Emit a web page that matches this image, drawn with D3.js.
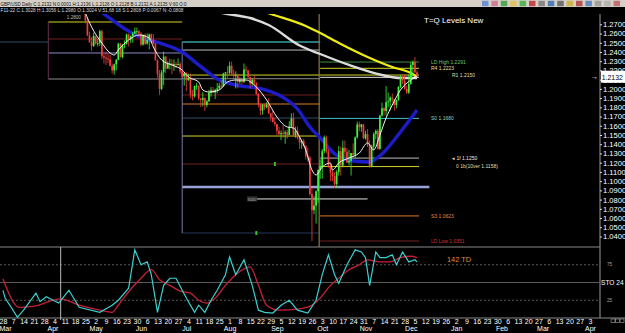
<!DOCTYPE html>
<html>
<head>
<meta charset="utf-8">
<script src="https://cdn.jsdelivr.net/npm/d3@7"></script>
<style>
html, body { margin: 0; padding: 0; background: #000; }
svg { display: block; font-family: "Liberation Sans", Arial, sans-serif; }
</style>
</head>
<body>
<svg id="chart" width="625" height="333"></svg>
<script>
// ---- data (GBP/USD daily) ----
const axisFirst = "2022-02-28", axisLast = "2023-04-03";
const candleFirst = "2022-04-20";

const opens = [
  1.3000, 1.3055, 1.3030,
  1.2830, 1.2740, 1.2580, 1.2505, 1.2465,
  1.2570, 1.2490, 1.2495, 1.2625, 1.2355,
  1.2340, 1.2330, 1.2320, 1.2250, 1.2200,
  1.2265, 1.2315, 1.2490, 1.2345, 1.2480,
  1.2490, 1.2590, 1.2535, 1.2570, 1.2600,
  1.2625, 1.2625, 1.2600, 1.2480, 1.2585,
  1.2490, 1.2530, 1.2590, 1.2535, 1.2490,
  1.2310, 1.2160, 1.2000, 1.2180, 1.2350,
  1.2220, 1.2270, 1.2275, 1.2255, 1.2270,
  1.2265, 1.2270, 1.2190, 1.2135, 1.2175,
  1.2095, 1.2115, 1.1940, 1.1920, 1.2030,
  1.2035, 1.1895, 1.1880, 1.1900, 1.1825,
  1.1865, 1.1955, 1.1985, 1.1960, 1.1990,
  1.2005, 1.2035, 1.2030, 1.2165, 1.2180,
  1.2175, 1.2250, 1.2165, 1.2140, 1.2150,
  1.2075, 1.2095, 1.2075, 1.2210, 1.2200,
  1.2130, 1.2055, 1.2100, 1.2060, 1.1945,
  1.1830, 1.1765, 1.1830, 1.1800, 1.1830,
  1.1735, 1.1690, 1.1640, 1.1620, 1.1545,
  1.1510, 1.1520, 1.1515, 1.1530, 1.1500,
  1.1590, 1.1680, 1.1500, 1.1545, 1.1470,
  1.1420, 1.1435, 1.1380, 1.1270, 1.1255,
  1.0860, 1.0685, 1.0735, 1.0890, 1.1120,
  1.1165, 1.1325, 1.1475, 1.1320, 1.1155,
  1.1090, 1.1055, 1.0970, 1.1100, 1.1325,
  1.1170, 1.1360, 1.1320, 1.1200, 1.1220,
  1.1305, 1.1285, 1.1475, 1.1615, 1.1585,
  1.1615, 1.1465, 1.1510, 1.1395, 1.1160,
  1.1375, 1.1510, 1.1545, 1.1350, 1.1710,
  1.1790, 1.1760, 1.1855, 1.1865, 1.1905,
  1.1890, 1.1825, 1.1880, 1.2020, 1.2120,
  1.2090, 1.2000, 1.1960, 1.2055, 1.2260,
  1.2290, 1.2180
];
const highs = [
  1.3070, 1.3090, 1.3040,
  1.2850, 1.2775, 1.2620, 1.2560, 1.2610,
  1.2580, 1.2545, 1.2640, 1.2640, 1.2385,
  1.2405, 1.2380, 1.2370, 1.2275, 1.2275,
  1.2325, 1.2500, 1.2500, 1.2485, 1.2525,
  1.2600, 1.2600, 1.2580, 1.2620, 1.2665,
  1.2665, 1.2640, 1.2615, 1.2590, 1.2600,
  1.2600, 1.2600, 1.2600, 1.2595, 1.2500,
  1.2320, 1.2205, 1.2205, 1.2405, 1.2355,
  1.2300, 1.2325, 1.2320, 1.2320, 1.2295,
  1.2330, 1.2290, 1.2210, 1.2180, 1.2180,
  1.2165, 1.2165, 1.1990, 1.2035, 1.2065,
  1.2035, 1.1900, 1.1965, 1.1910, 1.1880,
  1.1990, 1.2020, 1.2020, 1.2000, 1.2065,
  1.2065, 1.2095, 1.2175, 1.2180, 1.2245,
  1.2295, 1.2295, 1.2210, 1.2190, 1.2165,
  1.2125, 1.2120, 1.2275, 1.2250, 1.2205,
  1.2130, 1.2115, 1.2145, 1.2075, 1.1955,
  1.1840, 1.1835, 1.1840, 1.1855, 1.1900,
  1.1740, 1.1760, 1.1690, 1.1620, 1.1590,
  1.1550, 1.1610, 1.1550, 1.1560, 1.1650,
  1.1735, 1.1740, 1.1590, 1.1590, 1.1475,
  1.1450, 1.1460, 1.1390, 1.1360, 1.1275,
  1.0930, 1.0840, 1.0900, 1.1130, 1.1235,
  1.1350, 1.1495, 1.1495, 1.1350, 1.1185,
  1.1120, 1.1100, 1.1120, 1.1380, 1.1375,
  1.1440, 1.1440, 1.1360, 1.1340, 1.1305,
  1.1410, 1.1485, 1.1645, 1.1645, 1.1620,
  1.1620, 1.1545, 1.1565, 1.1440, 1.1395,
  1.1530, 1.1560, 1.1565, 1.1720, 1.1850,
  1.1800, 1.2030, 1.1960, 1.1920, 1.1950,
  1.1890, 1.1885, 1.2030, 1.2150, 1.2155,
  1.2155, 1.2035, 1.2155, 1.2290, 1.2310,
  1.2345, 1.2200
];
const lows = [
  1.2990, 1.2995, 1.2835,
  1.2710, 1.2570, 1.2500, 1.2410, 1.2455,
  1.2480, 1.2460, 1.2465, 1.2325, 1.2275,
  1.2260, 1.2280, 1.2245, 1.2165, 1.2155,
  1.2200, 1.2310, 1.2340, 1.2330, 1.2440,
  1.2480, 1.2460, 1.2500, 1.2500, 1.2590,
  1.2590, 1.2565, 1.2460, 1.2470, 1.2475,
  1.2480, 1.2430, 1.2500, 1.2480, 1.2310,
  1.2120, 1.1935, 1.1985, 1.2040, 1.2170,
  1.2215, 1.2210, 1.2160, 1.2195, 1.2225,
  1.2250, 1.2165, 1.2120, 1.2035, 1.1975,
  1.2085, 1.1900, 1.1875, 1.1905, 1.1990,
  1.1875, 1.1805, 1.1810, 1.1760, 1.1800,
  1.1860, 1.1915, 1.1955, 1.1890, 1.1950,
  1.1990, 1.2000, 1.2020, 1.2065, 1.2120,
  1.2160, 1.2155, 1.2120, 1.2005, 1.2005,
  1.2055, 1.2050, 1.2065, 1.2170, 1.2110,
  1.2005, 1.2030, 1.2030, 1.1930, 1.1800,
  1.1715, 1.1720, 1.1770, 1.1790, 1.1730,
  1.1650, 1.1635, 1.1595, 1.1500, 1.1495,
  1.1445, 1.1470, 1.1405, 1.1460, 1.1500,
  1.1580, 1.1480, 1.1470, 1.1450, 1.1350,
  1.1350, 1.1375, 1.1235, 1.1210, 1.0840,
  1.0350, 1.0640, 1.0540, 1.0765, 1.1025,
  1.1025, 1.1300, 1.1300, 1.1145, 1.1000,
  1.1000, 1.0925, 1.0925, 1.1060, 1.1060,
  1.1150, 1.1260, 1.1200, 1.1170, 1.1060,
  1.1255, 1.1255, 1.1460, 1.1540, 1.1535,
  1.1455, 1.1450, 1.1370, 1.1145, 1.1150,
  1.1335, 1.1455, 1.1340, 1.1340, 1.1700,
  1.1710, 1.1710, 1.1800, 1.1765, 1.1850,
  1.1765, 1.1790, 1.1870, 1.2010, 1.2050,
  1.1990, 1.1945, 1.1945, 1.2045, 1.2140,
  1.2170, 1.2125
];
const closes = [
  1.3055, 1.3030, 1.2840,
  1.2740, 1.2580, 1.2505, 1.2465, 1.2575,
  1.2490, 1.2495, 1.2625, 1.2355, 1.2340,
  1.2330, 1.2320, 1.2250, 1.2200, 1.2265,
  1.2315, 1.2490, 1.2345, 1.2480, 1.2490,
  1.2590, 1.2535, 1.2570, 1.2600, 1.2625,
  1.2625, 1.2600, 1.2480, 1.2585, 1.2490,
  1.2530, 1.2590, 1.2535, 1.2490, 1.2310,
  1.2160, 1.2000, 1.2180, 1.2350, 1.2220,
  1.2270, 1.2275, 1.2255, 1.2270, 1.2265,
  1.2270, 1.2190, 1.2135, 1.2175, 1.2095,
  1.2115, 1.1940, 1.1920, 1.2030, 1.2035,
  1.1895, 1.1880, 1.1900, 1.1825, 1.1865,
  1.1955, 1.1985, 1.1960, 1.1990, 1.2005,
  1.2035, 1.2030, 1.2165, 1.2180, 1.2175,
  1.2250, 1.2165, 1.2140, 1.2150, 1.2075,
  1.2095, 1.2075, 1.2210, 1.2200, 1.2130,
  1.2055, 1.2100, 1.2060, 1.1945, 1.1830,
  1.1765, 1.1830, 1.1800, 1.1830, 1.1735,
  1.1690, 1.1640, 1.1620, 1.1545, 1.1510,
  1.1520, 1.1515, 1.1530, 1.1500, 1.1590,
  1.1680, 1.1500, 1.1545, 1.1470, 1.1420,
  1.1435, 1.1380, 1.1270, 1.1255, 1.0860,
  1.0685, 1.0735, 1.0890, 1.1120, 1.1165,
  1.1325, 1.1475, 1.1320, 1.1155, 1.1090,
  1.1055, 1.0970, 1.1100, 1.1325, 1.1170,
  1.1360, 1.1320, 1.1200, 1.1220, 1.1305,
  1.1285, 1.1475, 1.1615, 1.1585, 1.1615,
  1.1465, 1.1510, 1.1395, 1.1160, 1.1375,
  1.1510, 1.1545, 1.1350, 1.1710, 1.1790,
  1.1760, 1.1855, 1.1865, 1.1905, 1.1890,
  1.1825, 1.1880, 1.2020, 1.2120, 1.2090,
  1.2000, 1.1960, 1.2055, 1.2260, 1.2290,
  1.2180, 1.2132
];

// moving averages (session = trading day from axisFirst)
const fastMaDays = [40,43,48,52,54,56,61,66,71,73,77,82,87,90,95,97,100,105,109,113,118,123,128,133,138,141,144,147,150,152,155,159,160,163,168,173,177,180,183,186,189,193,198,201];
const fastMaValues = [1.2822,1.2671,1.2497,1.2389,1.2367,1.2421,1.2530,1.2584,1.2552,1.2454,1.2313,1.2259,1.2205,1.2129,1.2075,1.1988,1.1966,1.1988,1.2075,1.2096,1.2096,1.2020,1.1880,1.1695,1.1587,1.1576,1.1479,1.1338,1.1121,1.1067,1.1153,1.1197,1.1121,1.1197,1.1251,1.1305,1.1414,1.1338,1.1500,1.1685,1.1825,1.1988,1.2096,1.2140];
const blueMaDays = [44,49,53,60,66,76,87,95,105,113,126,134,143,149,155,160,167,178,184,193,201];
const blueMaValues = [1.2900,1.2812,1.2747,1.2639,1.2563,1.2498,1.2400,1.2260,1.2096,1.2042,1.1998,1.1933,1.1782,1.1587,1.1446,1.1316,1.1229,1.1208,1.1294,1.1533,1.1771];
const grayMaDays = [100,109,120,129,144,154,168,184,193,201];
const grayMaValues = [1.2850,1.2812,1.2768,1.2692,1.2470,1.2378,1.2259,1.2150,1.2118,1.2118];
const yellowMaDays = [120,130,147,154,164,177,189,198,201];
const yellowMaValues = [1.2888,1.2812,1.2682,1.2606,1.2487,1.2346,1.2237,1.2172,1.2129];

// stochastic
const stoKDays = [0,1,4,7,10,13,16,18,21,27,32,37,47,53,56,61,64,67,70,72,75,78,81,84,87,90,93,95,98,101,104,108,110,113,117,121,124,127,131,135,139,143,148,152,155,158,161,163,167,171,174,176,178,181,183,186,189,191,194,197,200,201];
const stoKValues = [39,28,15,1,11,23,35,23,30,21,39,15,8,18,25,42,96,75,79,61,8,46,56,56,39,23,8,18,8,25,39,61,86,61,82,46,11,8,7,18,25,11,7,25,61,89,61,49,75,96,93,85,46,93,85,85,89,75,93,79,82,79];
const stoDDays = [0,8,16,22,28,37,47,53,56,61,67,72,76,81,86,91,95,99,103,108,113,120,124,128,134,144,150,154,159,163,168,173,177,183,188,193,198,201];
const stoDValues = [55,15,17,23,27,18,11,8,18,37,56,68,54,46,38,35,25,21,28,46,61,72,46,18,11,13,18,28,46,56,68,75,82,79,79,85,87,85];
const stoLevels = [75, 50, 25];

// T=Q level lines
const levelPrices = [1.2725,1.2541,1.2389,1.2107,1.2508,
  1.2508,1.2421,1.2150,1.2110,1.1934,1.1836,1.1684,1.1489,1.1186,1.0937,1.0438,
  1.2291,1.2223,1.2125,1.1680,1.1250,1.1158,1.0623,1.0351,1.0807];
const levelFrom = [22,22,22,22,-2, 87,87,87,87,87,87,87,87,87,87,87, 154,154,154,154,154,154,154,154,123];
const levelTo = [87,87,87,87,22, 154,154,202,154,154,154,154,154,154,207,154, 202,202,202,202,202,202,202,202,177];
const levelKinds = ["yellow","maroon","lavender","gray","slate",
  "teal","silver","yellow","gray","maroon","orange","slate","yellow","maroon","lavenderThick","navy",
  "green","yellow","white","cyan","silver","yellow","orange","maroon","white"];
const boxDays = [22, 87];
const boxTops = [1.2725, 1.2508];
const boxBottoms = [1.2107, 1.0438];
const cursorDay = 153.5;
const markerDays = [132, 123];
const markerPrices = [1.1186, 1.0438];

const levelTexts = ["LD High 1.2291","R4 1.2223","R1 1.2150","S0 1.1680","\u25C2 1f 1.1250","0 1b(10ver 1.1158)","S3 1.0623","LD Low 1.0351"];
const levelTextPrices = [1.2291,1.2223,1.2150,1.1680,1.1250,1.1158,1.0623,1.0351];
const levelTextKinds = ["green","yellow","yellow","cyan","silver","yellow","orange","maroon"];

const priceTicks = [1.27,1.26,1.25,1.24,1.23,1.22,1.21,1.20,1.19,1.18,1.17,1.16,1.15,1.14,1.13,1.12,1.11,1.10,1.09,1.08,1.07,1.06,1.05,1.04];
const lastPrice = 1.2132;

// ---- styles ----
const levelColor = {
  yellow: "#d2d229", maroon: "#762020", lavender: "#8a8ac4", gray: "#8c8c8c",
  slate: "#2f4b68", teal: "#3a9e9e", silver: "#bcbcbc", orange: "#e07a22",
  lavenderThick: "#98a2d8", navy: "#26365a", green: "#3f8f3f", white: "#e2e2e2", cyan: "#40c2c8"
};
const levelWidth = { teal: 1.6, lavenderThick: 2.6 };
const textColor = { green: "#6cc46c", yellow: "#e4dca0", cyan: "#8ad2d2", silver: "#e8e8e8", orange: "#e08a44", maroon: "#c83a3a" };

// ---- scales ----
const parse = d3.timeParse("%Y-%m-%d");
const days = d3.timeDay.range(parse(axisFirst), d3.timeDay.offset(parse(axisLast), 1))
  .filter(d => d.getDay() > 0 && d.getDay() < 6);
const sessionOf = d => days.findIndex(t => +t === +d);
const s0 = sessionOf(parse(candleFirst));

const x = d3.scaleLinear().domain([0, days.length - 1]).range([3, 590]);
const y = d3.scaleLinear().domain([1.04, 1.27]).range([236.5, 24.3]);
const ys = d3.scaleLinear().domain([0, 100]).range([318, 247]);

const svg = d3.select("#chart");
svg.append("rect").attr("width", 625).attr("height", 333).attr("fill", "#000");

// header strip
svg.append("rect").attr("width", 625).attr("height", 7).attr("fill", "#d4d0c8");
svg.append("text").attr("x", 0.5).attr("y", 5.6).attr("font-size", 5.4).attr("fill", "#111")
  .attr("textLength", 186).attr("lengthAdjust", "spacingAndGlyphs")
  .text("GBP/USD Daily  C:1.2132  N:0.0001  H:1.2136  L:1.2126  O:1.2128  B:1.2132  A:1.2135  V:60  O:0");
svg.append("text").attr("x", 0.5).attr("y", 12.4).attr("font-size", 5).attr("fill", "#d8d8d8")
  .attr("textLength", 183).attr("lengthAdjust", "spacingAndGlyphs")
  .text("F11-22 C:1.3028 H:1.3056 L:1.2980 O:1.3024 V:51,68 18 S:1.2808 P:0.0067 N:-0.0808");
const iconColors = ["#5a86d0","#d07090","#3fa03f","#e0c050","#40b040","#c03030","#7a7a7a","#3a70b0","#606060","#d0b030","#b04040","#5080c0","#9a9a9a","#b0b0b0","#c06060"];
svg.append("g").selectAll("rect").data(iconColors).join("rect")
  .attr("x", (d, i) => 482 + i * 9.4).attr("y", 0.8).attr("width", 6.5).attr("height", 5.4)
  .attr("fill", d => d).attr("opacity", 0.85);

// clip for price panel
svg.append("clipPath").attr("id", "clipMain").append("rect")
  .attr("x", 0).attr("y", 14).attr("width", 600).attr("height", 233);
const plot = svg.append("g").attr("clip-path", "url(#clipMain)");

// level lines
const levels = levelPrices.map((p, i) => ({ p, a: levelFrom[i], b: levelTo[i], k: levelKinds[i] }));
plot.append("g").selectAll("line").data(levels).join("line")
  .attr("x1", d => x(d.a)).attr("x2", d => x(d.b))
  .attr("y1", d => y(d.p)).attr("y2", d => y(d.p))
  .attr("stroke", d => levelColor[d.k]).attr("stroke-width", d => levelWidth[d.k] || 1);
plot.append("g").selectAll("line").data(boxDays).join("line")
  .attr("x1", d => x(d)).attr("x2", d => x(d))
  .attr("y1", (d, i) => y(boxTops[i])).attr("y2", (d, i) => y(boxBottoms[i]))
  .attr("stroke", (d, i) => i === 0 ? "#6a3050" : "#7c7ca8").attr("stroke-width", 1);
plot.append("line").attr("x1", x(cursorDay)).attr("x2", x(cursorDay)).attr("y1", 14).attr("y2", 247)
  .attr("stroke", "#8a7a48").attr("stroke-width", 1.2);
plot.append("g").selectAll("rect").data(markerDays).join("rect")
  .attr("x", d => x(d) - 1).attr("y", (d, i) => y(markerPrices[i]) - 2).attr("width", 2).attr("height", 4)
  .attr("fill", "#30c030");

// slow moving averages
const maLine = d3.line().x(d => x(d[0])).y(d => y(d[1])).curve(d3.curveMonotoneX);
plot.append("path").datum(d3.zip(yellowMaDays, yellowMaValues)).attr("d", maLine)
  .attr("fill", "none").attr("stroke", "#f0ec10").attr("stroke-width", 2.2);
plot.append("path").datum(d3.zip(grayMaDays, grayMaValues)).attr("d", maLine)
  .attr("fill", "none").attr("stroke", "#dcdcdc").attr("stroke-width", 2.4);
plot.append("path").datum(d3.zip(blueMaDays, blueMaValues)).attr("d", maLine)
  .attr("fill", "none").attr("stroke", "#1c1cc8").attr("stroke-width", 3.4);

// candles
const candles = closes.map((c, i) => ({ s: s0 + i, o: opens[i], h: highs[i], l: lows[i], c }));
const up = "#3cf43c", down = "#f43c3c";
const cg = plot.append("g");
cg.selectAll("line").data(candles).join("line")
  .attr("x1", d => x(d.s)).attr("x2", d => x(d.s))
  .attr("y1", d => y(d.h)).attr("y2", d => y(d.l))
  .attr("stroke", d => d.c >= d.o ? up : down).attr("stroke-width", 0.8);
cg.selectAll("rect").data(candles).join("rect")
  .attr("x", d => x(d.s) - 0.85).attr("width", 1.7)
  .attr("y", d => y(Math.max(d.o, d.c)))
  .attr("height", d => Math.max(1, Math.abs(y(d.o) - y(d.c))))
  .attr("fill", d => d.c >= d.o ? up : down);

plot.append("path").datum(d3.zip(fastMaDays, fastMaValues)).attr("d", maLine)
  .attr("fill", "none").attr("stroke", "#f4f4f4").attr("stroke-width", 1);

// level labels
svg.append("g").selectAll("text").data(levelTexts).join("text")
  .attr("x", (d, i) => (i === 2 || i === 4) ? 452 : (i === 5 ? 456 : 431))
  .attr("y", (d, i) => y(levelTextPrices[i]) + 1.8)
  .attr("font-size", 5).attr("fill", (d, i) => textColor[levelTextKinds[i]])
  .text(d => d);
svg.append("text").attr("x", x(31)).attr("y", y(1.2725) - 3).attr("font-size", 4.6).attr("fill", "#bbb").text("1.2800");
svg.append("rect").attr("x", x(119) - 1).attr("y", y(1.0807) - 2.5).attr("width", 10).attr("height", 5).attr("fill", "#333");
svg.append("text").attr("x", x(119)).attr("y", y(1.0807) + 1.6).attr("font-size", 4.4).attr("fill", "#aaa").text("50D");
svg.append("text").attr("x", 424).attr("y", 23).attr("font-size", 8).attr("fill", "#fff").text("T=Q Levels New");

// right price axis (1.2200 sits under the last-price box, as in the source)
svg.append("line").attr("x1", 600).attr("x2", 600).attr("y1", 14).attr("y2", 318).attr("stroke", "#9a9a9a");
svg.append("g").attr("transform", "translate(600,0)")
  .call(d3.axisRight(y).tickValues(priceTicks).tickFormat(d3.format(".4f")).tickSize(2).tickPadding(1))
  .call(g => g.select(".domain").remove())
  .call(g => g.selectAll("line").attr("stroke", "#ddd"))
  .call(g => g.selectAll("text").attr("fill", "#fff").attr("font-size", 7.6).attr("font-family", null));
svg.append("rect").attr("x", 601).attr("y", y(lastPrice) - 6).attr("width", 24).attr("height", 12).attr("fill", "#fff");
svg.append("text").attr("x", 601.8).attr("y", y(lastPrice) + 3).attr("font-size", 8).attr("fill", "#000")
  .attr("textLength", 21).attr("lengthAdjust", "spacingAndGlyphs").text(d3.format(".4f")(lastPrice));
svg.append("text").attr("x", 591).attr("y", y(lastPrice) + 2.5).attr("font-size", 7).attr("fill", "#fff").text("\u2192");

// panel borders
svg.append("line").attr("x1", 0).attr("x2", 600).attr("y1", 247).attr("y2", 247).attr("stroke", "#8a8a8a");
svg.append("line").attr("x1", 0).attr("x2", 625).attr("y1", 318).attr("y2", 318).attr("stroke", "#8a8a8a");

// stochastic panel
svg.append("g").selectAll("line").data(stoLevels).join("line")
  .attr("x1", 0).attr("x2", 600).attr("y1", d => ys(d)).attr("y2", d => ys(d))
  .attr("stroke", "#5a5a5a").attr("stroke-dasharray", d => d === 50 ? null : "2,2");
svg.append("line").attr("x1", x(28)).attr("x2", x(28)).attr("y1", 247).attr("y2", 320).attr("stroke", "#b8b8b8");
const stoLine = d3.line().x(d => x(d[0])).y(d => ys(d[1]));
svg.append("path").datum(d3.zip(stoDDays, stoDValues)).attr("d", stoLine.curve(d3.curveMonotoneX))
  .attr("fill", "none").attr("stroke", "#c8203a").attr("stroke-width", 1.3);
svg.append("path").datum(d3.zip(stoKDays, stoKValues)).attr("d", d3.line().x(d => x(d[0])).y(d => ys(d[1])))
  .attr("fill", "none").attr("stroke", "#3ccfcf").attr("stroke-width", 1.2);
svg.append("g").selectAll("text").data([75, 25]).join("text")
  .attr("x", 607).attr("y", d => ys(d) + 1.6).attr("font-size", 4.5).attr("fill", "#aaa").text(d => d);
svg.append("text").attr("x", 601).attr("y", ys(50) + 2.6).attr("font-size", 6.6).attr("fill", "#fff").text("STO 24");
svg.append("text").attr("x", 447).attr("y", 262).attr("font-size", 7.4).attr("fill", "#e08a3c").text("142 TD");

// date axes
const mondays = d3.range(days.length).filter(i => days[i].getDay() === 1);
const monthStarts = d3.range(1, days.length).filter(i => days[i].getMonth() !== days[i - 1].getMonth());
svg.append("g").attr("transform", "translate(0,318)")
  .call(d3.axisBottom(x).tickValues(mondays).tickFormat(i => d3.timeFormat("%-d")(days[i])).tickSize(0).tickPadding(1.5))
  .call(g => g.select(".domain").remove())
  .call(g => g.selectAll("text").attr("fill", "#fff").attr("font-size", 7).attr("font-family", null));
svg.append("g").attr("transform", "translate(0,325.5)")
  .call(d3.axisBottom(x).tickValues(monthStarts).tickFormat(i => d3.timeFormat("%b")(days[i])).tickSize(0).tickPadding(1))
  .call(g => g.select(".domain").remove())
  .call(g => g.selectAll("text").attr("fill", "#fff").attr("font-size", 7).attr("font-family", null));
svg.append("g").selectAll("rect").data([0, 1, 2]).join("rect")
  .attr("x", d => 611 + d * 4.5).attr("y", 319).attr("width", 4).attr("height", 3.5)
  .attr("fill", "none").attr("stroke", "#aaa").attr("stroke-width", 0.6);
</script>
</body>
</html>
